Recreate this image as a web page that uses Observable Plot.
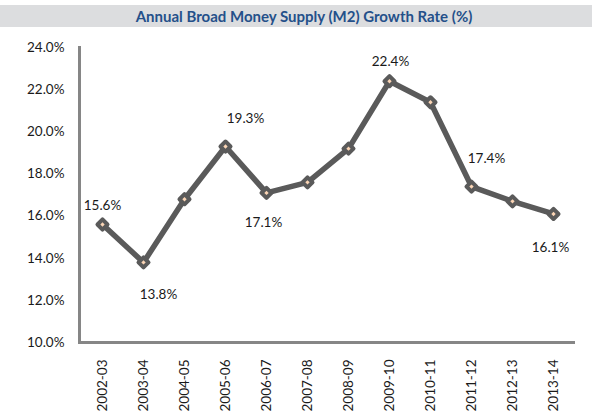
<!DOCTYPE html>
<html>
<head>
<meta charset="utf-8">
<script src="https://cdn.jsdelivr.net/npm/d3@7"></script>
<script src="https://cdn.jsdelivr.net/npm/@observablehq/plot@0.6"></script>
<style>
  html, body { margin: 0; padding: 0; background: #fff; }
  #wrap { width: 592px; height: 415px; position: relative; overflow: hidden; }
  #title { margin-top: 5px; height: 22px; line-height: 22px; background: #dcdddf; text-align: center;
    font-family: Lato, "Open Sans", sans-serif; font-weight: bold; font-size: 15px; color: #24508a; }
  #title span { position: relative; left: 8px; }
</style>
</head>
<body>
<div id="wrap">
  <div id="title"><span>Annual Broad Money Supply (M2) Growth Rate (%)</span></div>
  <div id="chart"></div>
</div>
<script>
const years = ["2002-03","2003-04","2004-05","2005-06","2006-07","2007-08","2008-09","2009-10","2010-11","2011-12","2012-13","2013-14"];
const growth = [15.6, 13.8, 16.8, 19.3, 17.1, 17.6, 19.2, 22.4, 21.4, 17.4, 16.7, 16.1];
const labelled = [true, true, false, true, true, false, false, true, false, true, false, true];
const yTicks = [10, 12, 14, 16, 18, 20, 22, 24];
// label offsets (px) relative to each point, as placed in the original
const labelDx = [0, 15, 0, 20, -3, 0, 0, 1, 0, 15, 0, -3];
const labelDy = [-19, 32, 0, -28, 30, 0, 0, -20, 0, -28, 0, 34];

const data = years.map((y, i) => ({year: y, value: growth[i], show: labelled[i], dx: labelDx[i], dy: labelDy[i]}));
const fmt = v => v.toFixed(1) + "%";

const labelMarks = data.filter(d => d.show).map(d =>
  Plot.text([d], {x: "year", y: "value", text: d => fmt(d.value), dx: d.dx, dy: d.dy, fill: "#1a1a1a", fontSize: 13.5})
);

const chart = Plot.plot({
  width: 592,
  height: 388,
  marginLeft: 79,
  marginRight: 17,
  marginTop: 20,
  marginBottom: 73,
  style: {fontFamily: "Lato, 'Open Sans', sans-serif", fontSize: "13.5px", color: "#1a1a1a", background: "transparent"},
  x: {type: "point", domain: years, padding: 0.5},
  y: {domain: [10, 24]},
  marks: [
    Plot.axisY({ticks: yTicks, tickSize: 0, tickPadding: 15, tickFormat: fmt, label: null, fontSize: 13.5}),
    Plot.axisX({tickSize: 0, tickPadding: 17, tickRotate: -90, label: null, fontSize: 13.5}),
    Plot.ruleY([10], {stroke: "#868686", strokeWidth: 3}),
    Plot.frame({anchor: "left", stroke: "#868686", strokeWidth: 3}),
    Plot.line(data, {x: "year", y: "value", stroke: "#5a5a5a", strokeWidth: 5.5, strokeLinejoin: "round", strokeLinecap: "round"}),
    Plot.dot(data, {x: "year", y: "value", symbol: "square", rotate: 45, r: 4, fill: "#fbd5b5", stroke: "#5a5a5a", strokeWidth: 4, strokeLinejoin: "round"}),
    ...labelMarks
  ]
});
document.getElementById("chart").appendChild(chart);
</script>
</body>
</html>
